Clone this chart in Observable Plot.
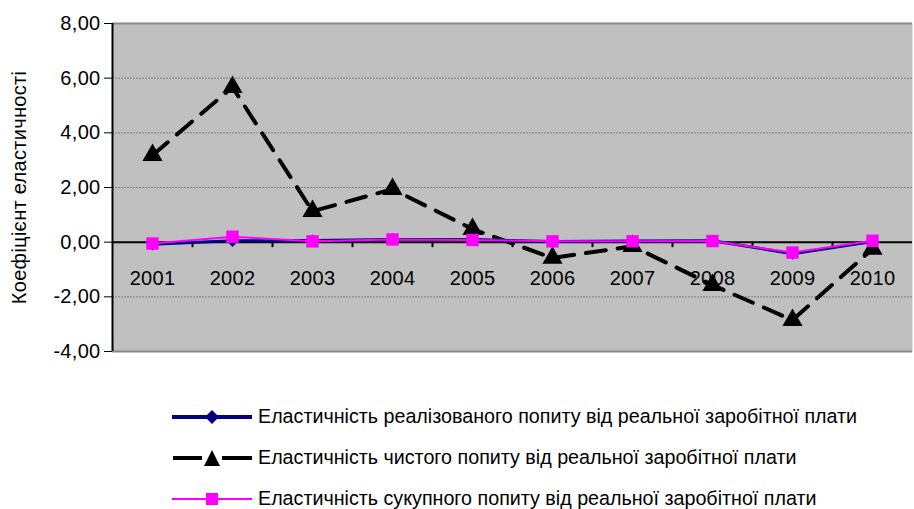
<!DOCTYPE html>
<html>
<head>
<meta charset="utf-8">
<script src="https://cdn.jsdelivr.net/npm/d3@7"></script>
<script src="https://cdn.jsdelivr.net/npm/@observablehq/plot@0.6"></script>
<style>
  body { margin: 0; background: #fff; font-family: "Liberation Sans", Arial, sans-serif; overflow: hidden; }
  #legend { margin-top: 26px; }
  .row { display: flex; align-items: center; height: 41px; padding-left: 172px; font-size: 19.7px; color: #000; white-space: nowrap; }
  .row svg { margin-right: 6px; flex: none; }
</style>
</head>
<body>
<div id="chart"></div>
<div id="legend"></div>
<script>
const years = [2001, 2002, 2003, 2004, 2005, 2006, 2007, 2008, 2009, 2010];
const realized = [-0.08, 0.05, 0.06, 0.10, 0.10, 0.02, 0.04, 0.05, -0.42, 0.02];
const net = [3.18, 5.67, 1.13, 1.94, 0.48, -0.58, -0.15, -1.57, -2.85, -0.25];
const aggregate = [-0.05, 0.20, 0.03, 0.10, 0.08, 0.03, 0.03, 0.04, -0.38, 0.05];
const yTicks = [-4, -2, 0, 2, 4, 6, 8];
const seriesNames = [
  "Еластичність реалізованого попиту від реальної заробітної плати",
  "Еластичність чистого попиту від реальної заробітної плати",
  "Еластичність сукупного попиту від реальної заробітної плати"
];
const yLabel = "Коефіцієнт еластичності";

const rows = (vals) => years.map((yr, i) => ({year: yr, value: vals[i]}));
const dRealized = rows(realized);
const dNet = rows(net);
const dAggregate = rows(aggregate);
const boundaries = [2000.5, ...years.map(y => y + 0.5)];
const fmt = v => d3.format(".2f")(v).replace(".", ",").replace("−", "-");
const FONT = "'Liberation Sans', Arial, sans-serif";

const chart = Plot.plot({
  width: 914,
  height: 370,
  marginLeft: 112,
  marginRight: 2,
  marginTop: 23,
  marginBottom: 19,
  style: {fontFamily: FONT, fontSize: "20px", letterSpacing: "0.3px", background: "white", color: "black"},
  x: {domain: [2000.5, 2010.5], axis: null},
  y: {domain: [-4, 8], ticks: yTicks, tickFormat: fmt, tickSize: 8, tickPadding: 4,
      label: yLabel, labelAnchor: "center", labelOffset: 101, labelArrow: "none"},
  marks: [
    Plot.frame({fill: "#c0c0c0", stroke: "none"}),
    Plot.ruleY(yTicks.filter(t => t !== 0), {stroke: "#808080", strokeWidth: 1, strokeDasharray: "2,1"}),
    Plot.ruleY([-4, 8], {stroke: "#8a8a8a", strokeWidth: 2}),
    Plot.ruleY([0], {stroke: "black", strokeWidth: 2}),
    Plot.ruleX([2000.5], {stroke: "black", strokeWidth: 2}),
    Plot.ruleX(boundaries.slice(1, -1), {x: d => d, y1: 0, y2: -0.2, stroke: "black", strokeWidth: 2}),
    Plot.text(years, {x: d => d, y: 0, text: d => String(d), dy: 36, fill: "black", fontSize: 20}),
    Plot.line(dNet, {x: "year", y: "value", stroke: "black", strokeWidth: 4, strokeDasharray: "20,12"}),
    Plot.dot(dNet, {x: "year", y: "value", symbol: "triangle", r: 7.5, fill: "black", stroke: "none"}),
    Plot.line(dRealized, {x: "year", y: "value", stroke: "#000080", strokeWidth: 3}),
    Plot.dot(dRealized, {x: "year", y: "value", symbol: "diamond2", r: 5.5, fill: "#000080", stroke: "none"}),
    Plot.line(dAggregate, {x: "year", y: "value", stroke: "#ff00ff", strokeWidth: 2}),
    Plot.dot(dAggregate, {x: "year", y: "value", symbol: "square", r: 7, fill: "#ff00ff", stroke: "none"})
  ]
});
document.getElementById("chart").appendChild(chart);

const swatches = [
  `<svg width="80" height="20"><line x1="0" y1="10" x2="80" y2="10" stroke="#000080" stroke-width="4"/><path d="M40,3 L47,10 L40,17 L33,10 Z" fill="#000080"/></svg>`,
  `<svg width="80" height="20"><line x1="1" y1="10" x2="30" y2="10" stroke="black" stroke-width="4"/><line x1="50" y1="10" x2="80" y2="10" stroke="black" stroke-width="4"/><path d="M40,2 L48,18 L32,18 Z" fill="black"/></svg>`,
  `<svg width="80" height="20"><line x1="0" y1="10" x2="80" y2="10" stroke="#ff00ff" stroke-width="2"/><rect x="34" y="4" width="12" height="12" fill="#ff00ff"/></svg>`
];
const legend = document.getElementById("legend");
seriesNames.forEach((name, i) => {
  const row = document.createElement("div");
  row.className = "row";
  row.innerHTML = swatches[i] + `<span>${name}</span>`;
  legend.appendChild(row);
});
</script>
</body>
</html>
